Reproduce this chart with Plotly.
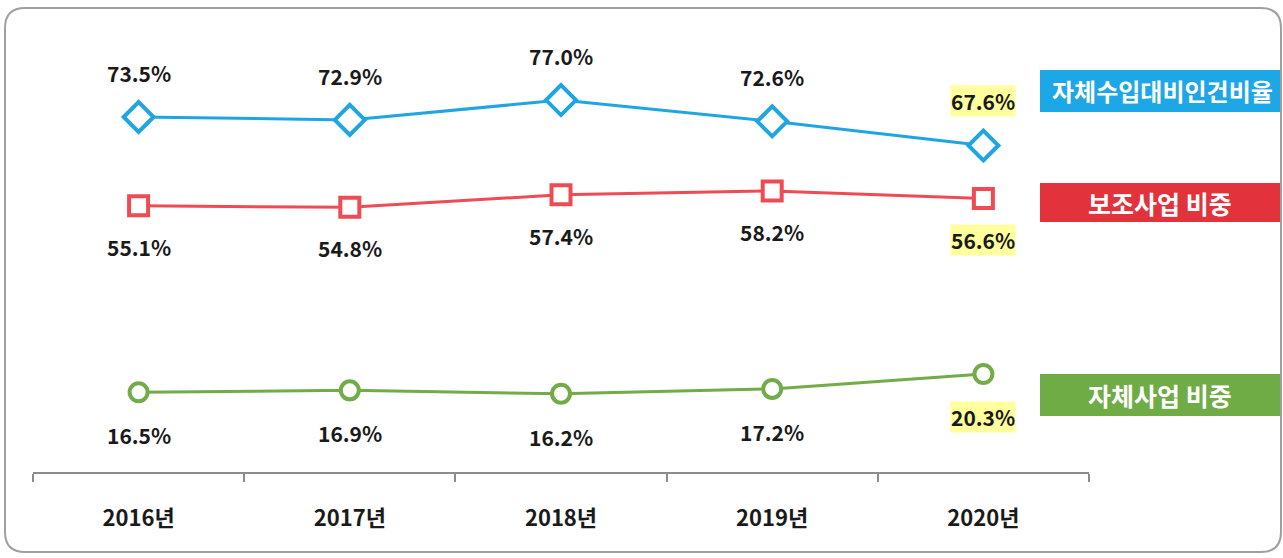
import plotly.graph_objects as go

years = ["2016년", "2017년", "2018년", "2019년", "2020년"]
series_names = ["자체수입대비인건비율", "보조사업 비중", "자체사업 비중"]
personnel_ratio = [73.5, 72.9, 77.0, 72.6, 67.6]
subsidy_share = [55.1, 54.8, 57.4, 58.2, 56.6]
own_share = [16.5, 16.9, 16.2, 17.2, 20.3]

W, H = 1283, 558
L, R, T, B = 33, 1089, 20, 472
YMAX = (B - T) / 4.83

def px(x):
    return (x - L) / (R - L)

def py(y):
    return (B - y) / (B - T)

line_colors = ["#1FA6E2", "#EE4B55", "#72AC48"]
box_colors = ["#1EA7E6", "#E2323C", "#6FAC46"]
symbols = ["diamond", "square", "circle"]
msizes = [23, 19, 18]
all_vals = [personnel_ratio, subsidy_share, own_share]
label_shift = [44, -41, -43]

FONT = "Noto Sans CJK KR, Malgun Gothic, sans-serif"

fig = go.Figure()
for name, vals, c, s, ms in zip(series_names, all_vals, line_colors, symbols, msizes):
    fig.add_trace(go.Scatter(
        x=years, y=vals, mode="lines+markers", name=name,
        line=dict(color=c, width=3),
        marker=dict(symbol=s, size=ms, color="white", line=dict(width=4, color=c)),
        showlegend=False, cliponaxis=False,
    ))

annotations = []
for vals, shift in zip(all_vals, label_shift):
    for i, (yr, v) in enumerate(zip(years, vals)):
        last = i == len(years) - 1
        annotations.append(dict(
            x=yr, y=v, xref="x", yref="y", text=f"<b>{v:.1f}%</b>",
            showarrow=False, yshift=shift, xanchor="center", yanchor="middle",
            font=dict(family=FONT, size=21, color="#1a1a1a"),
            bgcolor="#FFFF9E" if last else "rgba(0,0,0,0)", borderpad=0,
        ))

# legend boxes
box_y = [(70, 112), (183, 222), (374, 416)]
shapes = []
for name, c, (y0, y1) in zip(series_names, box_colors, box_y):
    shapes.append(dict(type="rect", xref="paper", yref="paper",
                       x0=px(1040), x1=px(1280), y0=py(y1), y1=py(y0),
                       fillcolor=c, line=dict(width=0), layer="below"))
    annotations.append(dict(
        x=px(1162 if len(name) > 8 else 1160), y=py((y0 + y1) / 2),
        xref="paper", yref="paper", xanchor="center", yanchor="middle",
        text=f"<b>{name}</b>", showarrow=False,
        font=dict(family=FONT, size=24 if len(name) > 8 else 25, color="white"),
    ))

# rounded border
x0, x1, y0, y1, r = 5, 1281, 8, 552, 20
def P(x, y):
    return f"{px(x):.6f},{py(y):.6f}"
path = (f"M {P(x0 + r, y0)} L {P(x1 - r, y0)} Q {P(x1, y0)} {P(x1, y0 + r)} "
        f"L {P(x1, y1 - r)} Q {P(x1, y1)} {P(x1 - r, y1)} "
        f"L {P(x0 + r, y1)} Q {P(x0, y1)} {P(x0, y1 - r)} "
        f"L {P(x0, y0 + r)} Q {P(x0, y0)} {P(x0 + r, y0)} Z")
shapes.append(dict(type="path", xref="paper", yref="paper", path=path,
                   line=dict(color="#A0A0A0", width=2), layer="below"))

fig.update_layout(
    width=W, height=H,
    margin=dict(l=L, r=W - R, t=T, b=H - B),
    paper_bgcolor="white", plot_bgcolor="white",
    shapes=shapes, annotations=annotations,
    xaxis=dict(type="category", range=[-0.5, 4.5], showgrid=False,
               showline=True, linecolor="#8C8C8C", linewidth=2,
               ticks="outside", tickson="boundaries", ticklen=8,
               tickcolor="#8C8C8C", tickwidth=2,
               tickfont=dict(family=FONT, size=22, color="#1a1a1a"),
               ticklabelstandoff=26, zeroline=False, fixedrange=True),
    yaxis=dict(range=[0, YMAX], visible=False, fixedrange=True),
)
fig.update_xaxes(tickprefix="<b>", ticksuffix="</b>")

fig.write_html("out.html", config={"displayModeBar": False},
               post_script="document.body.style.margin='0';document.body.style.overflow='hidden';")
